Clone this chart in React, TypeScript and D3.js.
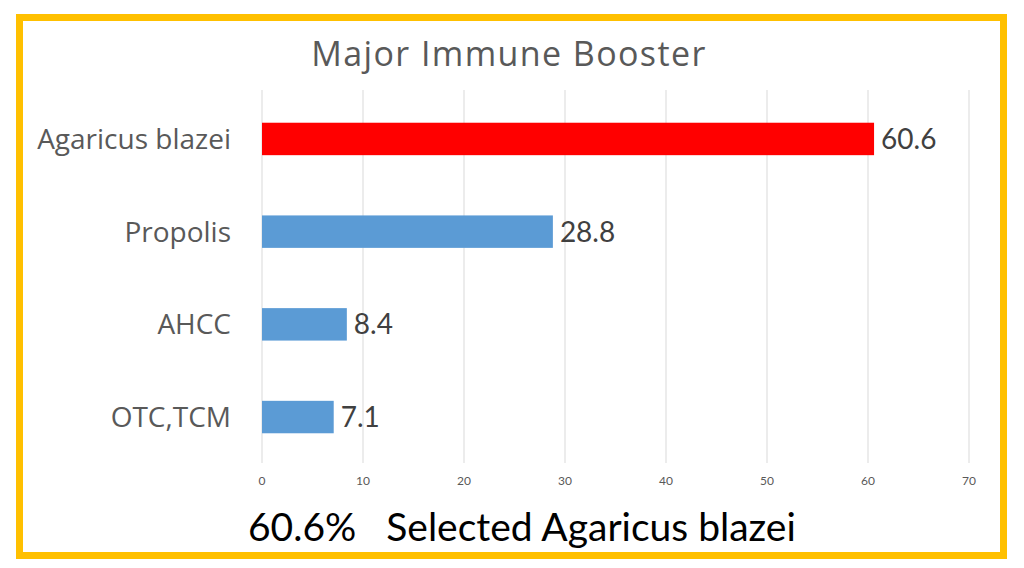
import React from "react";
import * as d3 from "d3";

const categories = ["Agaricus blazei", "Propolis", "AHCC", "OTC,TCM"];
const values = [60.6, 28.8, 8.4, 7.1];
const barColors = ["#FF0000", "#5B9BD5", "#5B9BD5", "#5B9BD5"];
const ticks = [0, 10, 20, 30, 40, 50, 60, 70];
const title = "Major Immune Booster";
const footnote = "60.6%\u00A0\u00A0\u00A0Selected Agaricus blazei";

const W = 1024;
const H = 568;
const LATO = "Lato, 'Open Sans', sans-serif";
const OPEN = "'Open Sans', Lato, sans-serif";

export default function App() {
  const x = d3.scaleLinear().domain([0, 70]).range([262, 969]);
  const y = d3
    .scaleBand<string>()
    .domain(categories)
    .range([92.6, 463.4])
    .paddingInner(0.65)
    .paddingOuter(0.325);

  return (
    <svg
      width={W}
      height={H}
      style={{ position: "absolute", left: 0, top: 0, background: "#fff" }}
      fontFamily={LATO}
    >
      <rect x={0} y={0} width={W} height={H} fill="#fff" />
      <rect
        x={19.5}
        y={17.5}
        width={984}
        height={538}
        fill="none"
        stroke="#FFC000"
        strokeWidth={7}
      />
      <text
        x={509}
        y={66}
        textAnchor="middle"
        fontSize={34}
        letterSpacing={1.4}
        fontFamily={OPEN}
        fill="#595959"
      >
        {title}
      </text>
      {ticks.map((t) => (
        <g key={t}>
          <line
            x1={x(t)}
            x2={x(t)}
            y1={90}
            y2={463}
            stroke="#D9D9D9"
            strokeWidth={1}
          />
          <text
            x={x(t)}
            y={485}
            textAnchor="middle"
            fontSize={12}
            fill="#595959"
          >
            {t}
          </text>
        </g>
      ))}
      {categories.map((c, i) => {
        const yy = y(c)!;
        const bw = y.bandwidth();
        return (
          <g key={c}>
            <rect
              x={x(0)}
              y={yy}
              width={x(values[i]) - x(0)}
              height={bw}
              fill={barColors[i]}
            />
            <text
              x={231}
              y={yy + bw / 2 + 10}
              textAnchor="end"
              fontSize={28}
              fontFamily={OPEN}
              fill="#595959"
            >
              {c}
            </text>
            <text
              x={x(values[i]) + 7}
              y={yy + bw / 2 + 10}
              fontSize={28}
              fill="#404040"
            >
              {values[i]}
            </text>
          </g>
        );
      })}
      <text x={248} y={541} fontSize={39} fill="#000">
        {footnote}
      </text>
    </svg>
  );
}
